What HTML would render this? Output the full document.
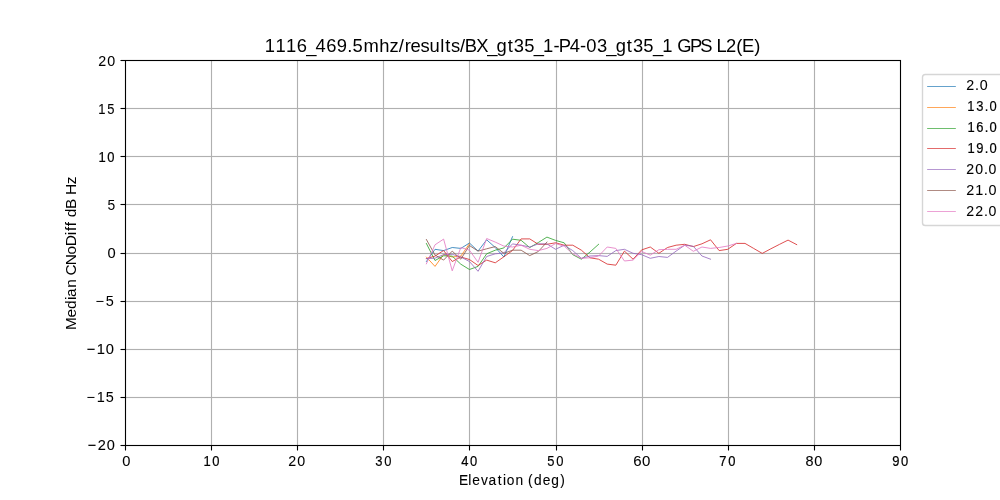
<!DOCTYPE html>
<html><head><meta charset="utf-8"><style>
html,body{margin:0;padding:0;background:#fff;width:1000px;height:500px;overflow:hidden}
svg{display:block;will-change:transform}
text{font-family:"Liberation Sans",sans-serif;fill:#000}
</style></head><body>
<svg width="1000" height="500" viewBox="0 0 1000 500">
<rect x="0" y="0" width="1000" height="500" fill="#fff"/>
<g shape-rendering="crispEdges" fill="#b0b0b0">
<rect x="210" y="60" width="1" height="385" fill-opacity="0.063"/><rect x="212" y="60" width="1" height="385" fill-opacity="0.063"/>
<rect x="296" y="60" width="1" height="385" fill-opacity="0.063"/><rect x="298" y="60" width="1" height="385" fill-opacity="0.063"/>
<rect x="382" y="60" width="1" height="385" fill-opacity="0.063"/><rect x="384" y="60" width="1" height="385" fill-opacity="0.063"/>
<rect x="468" y="60" width="1" height="385" fill-opacity="0.063"/><rect x="470" y="60" width="1" height="385" fill-opacity="0.063"/>
<rect x="555" y="60" width="1" height="385" fill-opacity="0.063"/><rect x="557" y="60" width="1" height="385" fill-opacity="0.063"/>
<rect x="641" y="60" width="1" height="385" fill-opacity="0.063"/><rect x="643" y="60" width="1" height="385" fill-opacity="0.063"/>
<rect x="727" y="60" width="1" height="385" fill-opacity="0.063"/><rect x="729" y="60" width="1" height="385" fill-opacity="0.063"/>
<rect x="813" y="60" width="1" height="385" fill-opacity="0.063"/><rect x="815" y="60" width="1" height="385" fill-opacity="0.063"/>
<rect x="125" y="107" width="775" height="1" fill-opacity="0.063"/><rect x="125" y="109" width="775" height="1" fill-opacity="0.063"/>
<rect x="125" y="155" width="775" height="1" fill-opacity="0.063"/><rect x="125" y="157" width="775" height="1" fill-opacity="0.063"/>
<rect x="125" y="203" width="775" height="1" fill-opacity="0.063"/><rect x="125" y="205" width="775" height="1" fill-opacity="0.063"/>
<rect x="125" y="252" width="775" height="1" fill-opacity="0.063"/><rect x="125" y="254" width="775" height="1" fill-opacity="0.063"/>
<rect x="125" y="300" width="775" height="1" fill-opacity="0.063"/><rect x="125" y="302" width="775" height="1" fill-opacity="0.063"/>
<rect x="125" y="348" width="775" height="1" fill-opacity="0.063"/><rect x="125" y="350" width="775" height="1" fill-opacity="0.063"/>
<rect x="125" y="396" width="775" height="1" fill-opacity="0.063"/><rect x="125" y="398" width="775" height="1" fill-opacity="0.063"/>
<rect x="211" y="60" width="1" height="385"/>
<rect x="297" y="60" width="1" height="385"/>
<rect x="383" y="60" width="1" height="385"/>
<rect x="469" y="60" width="1" height="385"/>
<rect x="556" y="60" width="1" height="385"/>
<rect x="642" y="60" width="1" height="385"/>
<rect x="728" y="60" width="1" height="385"/>
<rect x="814" y="60" width="1" height="385"/>
<rect x="125" y="108" width="775" height="1"/>
<rect x="125" y="156" width="775" height="1"/>
<rect x="125" y="204" width="775" height="1"/>
<rect x="125" y="253" width="775" height="1"/>
<rect x="125" y="301" width="775" height="1"/>
<rect x="125" y="349" width="775" height="1"/>
<rect x="125" y="397" width="775" height="1"/>
</g>
<g fill="none" stroke-width="0.82" stroke-linejoin="round" stroke-linecap="square">
<polyline stroke="#1f77b4" points="426.39,261.50 435.00,249.30 443.61,250.60 452.22,247.50 460.83,248.40 469.44,243.00 478.06,251.10 486.67,239.80 495.28,247.50 503.89,257.00 512.50,236.70"/>
<polyline stroke="#ff7f0e" points="426.39,257.10 435.00,266.40 443.61,254.50 452.22,257.00 460.83,256.10 469.44,243.70"/>
<polyline stroke="#2ca02c" points="426.39,243.50 435.00,260.50 443.61,255.80 452.22,256.10 460.83,264.20 469.44,269.50 478.06,266.40 486.67,253.80 495.28,250.20 503.89,247.90 512.50,239.20 521.11,240.30 529.72,247.60 538.33,242.50 546.94,237.10 555.56,240.40 564.17,242.80 572.78,254.70 581.39,259.20 590.00,252.00 598.61,244.30"/>
<polyline stroke="#d62728" points="426.39,258.60 435.00,256.10 443.61,250.50 452.22,261.50 460.83,257.00 469.44,259.50 478.06,265.50 486.67,260.10 495.28,262.80 503.89,256.80 512.50,250.50 521.11,238.90 529.72,238.90 538.33,244.30 546.94,244.30 555.56,242.80 564.17,245.20 572.78,245.20 581.39,250.20 590.00,257.80 598.61,259.20 607.22,264.10 615.83,265.20 624.44,251.10 633.06,259.20 641.67,249.90 650.28,247.00 658.89,253.30 667.50,247.50 676.11,245.20 684.72,244.30 693.33,246.60 701.94,243.80 710.56,239.80 719.17,250.60 727.78,249.30 736.39,243.40 745.00,243.40 753.61,248.40 762.22,253.40 770.83,248.80 779.44,244.40 788.06,240.10 796.67,244.60"/>
<polyline stroke="#9467bd" points="426.39,258.60 435.00,258.20 443.61,254.60 452.22,254.30 460.83,257.00 469.44,261.50 478.06,271.30 486.67,256.50 495.28,253.80 503.89,252.90 512.50,243.90 521.11,245.20 529.72,247.00 538.33,243.90 546.94,243.90 555.56,249.30 564.17,245.20 572.78,250.60 581.39,258.30 590.00,256.00 598.61,255.60 607.22,256.40 615.83,250.60 624.44,249.30 633.06,253.30 641.67,254.70 650.28,258.30 658.89,256.50 667.50,257.40 676.11,251.10 684.72,245.20 693.33,246.30 701.94,256.00 710.56,259.20"/>
<polyline stroke="#8c564b" points="426.39,239.50 435.00,255.00 443.61,260.10 452.22,251.10 460.83,259.20 469.44,245.50 478.06,251.10 486.67,248.80 495.28,246.60 503.89,253.30 512.50,250.20 521.11,250.20 529.72,255.60 538.33,251.50 546.94,242.10"/>
<polyline stroke="#e377c2" points="426.39,263.80 435.00,244.80 443.61,239.10 452.22,270.80 460.83,247.50 469.44,250.20 478.06,262.30 486.67,238.50 495.28,242.10 503.89,246.10 512.50,247.00 521.11,245.20 529.72,249.30 538.33,250.60 546.94,248.40 555.56,243.60 564.17,246.10 572.78,253.80 581.39,258.30 590.00,257.80 598.61,256.00 607.22,247.00 615.83,248.40 624.44,261.00 633.06,260.10 641.67,251.50 650.28,255.10 658.89,249.70 667.50,249.30 676.11,249.30 684.72,245.20 693.33,251.30 701.94,247.00 710.56,248.40 719.17,247.50 727.78,246.00 736.39,243.40"/>
</g>
<g stroke="#000" stroke-width="1.11" fill="none">
<rect x="125.5" y="60.5" width="775" height="385"/>
<line x1="125.5" y1="445.5" x2="125.5" y2="450.5"/>
<line x1="211.5" y1="445.5" x2="211.5" y2="450.5"/>
<line x1="297.5" y1="445.5" x2="297.5" y2="450.5"/>
<line x1="383.5" y1="445.5" x2="383.5" y2="450.5"/>
<line x1="469.5" y1="445.5" x2="469.5" y2="450.5"/>
<line x1="556.5" y1="445.5" x2="556.5" y2="450.5"/>
<line x1="642.5" y1="445.5" x2="642.5" y2="450.5"/>
<line x1="728.5" y1="445.5" x2="728.5" y2="450.5"/>
<line x1="814.5" y1="445.5" x2="814.5" y2="450.5"/>
<line x1="900.5" y1="445.5" x2="900.5" y2="450.5"/>
<line x1="120.5" y1="60.5" x2="125.5" y2="60.5"/>
<line x1="120.5" y1="108.5" x2="125.5" y2="108.5"/>
<line x1="120.5" y1="156.5" x2="125.5" y2="156.5"/>
<line x1="120.5" y1="204.5" x2="125.5" y2="204.5"/>
<line x1="120.5" y1="253.5" x2="125.5" y2="253.5"/>
<line x1="120.5" y1="301.5" x2="125.5" y2="301.5"/>
<line x1="120.5" y1="349.5" x2="125.5" y2="349.5"/>
<line x1="120.5" y1="397.5" x2="125.5" y2="397.5"/>
<line x1="120.5" y1="445.5" x2="125.5" y2="445.5"/>
</g>
<rect x="922.5" y="74.5" width="90" height="151" rx="2.8" ry="2.8" fill="#fff" fill-opacity="0.8" stroke="#d6d6d6" stroke-width="1.4"/>
<line x1="927.15" y1="86.50" x2="955.85" y2="86.50" stroke="#1f77b4" stroke-width="0.69"/>
<line x1="927.15" y1="107.50" x2="955.85" y2="107.50" stroke="#ff7f0e" stroke-width="0.69"/>
<line x1="927.15" y1="128.50" x2="955.85" y2="128.50" stroke="#2ca02c" stroke-width="0.69"/>
<line x1="927.15" y1="148.50" x2="955.85" y2="148.50" stroke="#d62728" stroke-width="0.69"/>
<line x1="927.15" y1="169.50" x2="955.85" y2="169.50" stroke="#9467bd" stroke-width="0.69"/>
<line x1="927.15" y1="190.50" x2="955.85" y2="190.50" stroke="#8c564b" stroke-width="0.69"/>
<line x1="927.15" y1="211.50" x2="955.85" y2="211.50" stroke="#e377c2" stroke-width="0.69"/>
<text transform="scale(1.0224,1)" x="259.04 269.39 279.74 290.18 299.45 308.67 319.00 329.30 339.60 344.80 355.51 371.04 381.05 389.96 395.83 401.54 411.37 420.12 430.56 435.46 441.04 449.90 454.68 465.84 476.53 485.63 496.53 502.46 512.71 522.04 531.15 541.37 546.45 557.28 567.39 573.48 583.86 593.10 602.20 613.10 619.03 629.28 638.61 647.72 658.08 662.46 674.92 684.82 695.98 700.90 710.06 720.19 725.87 737.73" y="51.678" font-size="17.980">1116_469.5mhz/results/BX_gt35_1-P4-03_gt35_1 GPS L2(E)</text>
<text transform="scale(0.9961,1)" x="460.76 470.17 474.14 482.88 490.39 499.78 504.87 508.76 517.46 525.98 530.19 536.04 544.87 553.46 562.57" y="484.682" font-size="13.812" stroke="#000" stroke-width="0.089">Elevation (deg)</text>
<text transform="translate(75.804,329.445) rotate(-90) scale(1.0500,1)" x="-0.43 11.39 19.57 28.11 31.02 39.80 48.11 51.46 61.11 71.33 79.23 89.83 93.75 98.40 102.66 106.85 114.78 124.32 128.11 138.25" y="0" font-size="14.705">Median CNoDiff dB Hz</text>
<text transform="scale(1.0206,1)" x="119.71" y="466.000" font-size="14.400" stroke="#000" stroke-width="0.078">0</text>
<text transform="scale(0.9000,1)" x="226.02 235.89" y="466.000" font-size="14.400" stroke="#000" stroke-width="0.225">10</text>
<text transform="scale(0.9898,1)" x="291.27 300.37" y="466.000" font-size="14.400" stroke="#000" stroke-width="0.053">20</text>
<text transform="scale(0.9000,1)" x="417.07 426.87" y="466.000" font-size="14.400" stroke="#000" stroke-width="0.148">30</text>
<text transform="scale(0.9000,1)" x="512.53 522.34" y="466.000" font-size="14.400" stroke="#000" stroke-width="0.202">40</text>
<text transform="scale(0.9000,1)" x="608.16 618.02" y="466.000" font-size="14.400" stroke="#000" stroke-width="0.154">50</text>
<text transform="scale(1.0434,1)" x="606.85 615.29" y="466.000" font-size="14.400" stroke="#000" stroke-width="0.063">60</text>
<text transform="scale(0.9000,1)" x="799.24 809.08" y="466.000" font-size="14.400" stroke="#000" stroke-width="0.250">70</text>
<text transform="scale(1.0045,1)" x="801.85 810.63" y="466.000" font-size="14.400" stroke="#000" stroke-width="0.088">80</text>
<text transform="scale(0.9023,1)" x="988.84 998.68" y="466.000" font-size="14.400" stroke="#000" stroke-width="0.215">90</text>
<text transform="scale(0.9902,1)" x="99.27 108.35" y="66.000" font-size="14.400" stroke="#000" stroke-width="0.053">20</text>
<text transform="scale(0.9000,1)" x="109.24 119.05" y="114.000" font-size="14.400" stroke="#000" stroke-width="0.108">15</text>
<text transform="scale(0.9000,1)" x="109.41 119.28" y="162.000" font-size="14.400" stroke="#000" stroke-width="0.225">10</text>
<text transform="scale(0.9615,1)" x="111.78" y="210.000" font-size="14.400">5</text>
<text transform="scale(1.0191,1)" x="105.39" y="258.000" font-size="14.400" stroke="#000" stroke-width="0.087">0</text>
<text transform="scale(1.0060,1)" x="94.91 105.22" y="306.000" font-size="14.400" stroke="#000" stroke-width="0.026">−5</text>
<text transform="scale(1.0217,1)" x="84.64 94.77 103.48" y="354.000" font-size="14.400" stroke="#000" stroke-width="0.104">−10</text>
<text transform="scale(1.0054,1)" x="85.99 96.28 105.09" y="402.000" font-size="14.400" stroke="#000" stroke-width="0.036">−15</text>
<text transform="scale(1.0102,1)" x="86.52 96.66 105.57" y="450.000" font-size="14.400" stroke="#000" stroke-width="0.097">−20</text>
<text transform="scale(0.9902,1)" x="975.85 984.72 989.40" y="90.000" font-size="14.400" stroke="#000" stroke-width="0.066">2.0</text>
<text transform="scale(0.9000,1)" x="1074.84 1084.72 1094.07 1099.42" y="111.000" font-size="14.400" stroke="#000" stroke-width="0.157">13.0</text>
<text transform="scale(0.9000,1)" x="1074.92 1084.82 1094.15 1099.50" y="132.000" font-size="14.400" stroke="#000" stroke-width="0.226">16.0</text>
<text transform="scale(0.9000,1)" x="1074.94 1084.75 1094.17 1099.52" y="153.000" font-size="14.400" stroke="#000" stroke-width="0.204">19.0</text>
<text transform="scale(0.9794,1)" x="986.65 995.84 1004.61 1009.36" y="174.000" font-size="14.400" stroke="#000" stroke-width="0.101">20.0</text>
<text transform="scale(0.9978,1)" x="968.34 977.29 986.00 990.62" y="195.000" font-size="14.400" stroke="#000" stroke-width="0.048">21.0</text>
<text transform="scale(0.9809,1)" x="985.12 994.12 1003.05 1007.79" y="216.000" font-size="14.400" stroke="#000" stroke-width="0.057">22.0</text>
</svg>
</body></html>
